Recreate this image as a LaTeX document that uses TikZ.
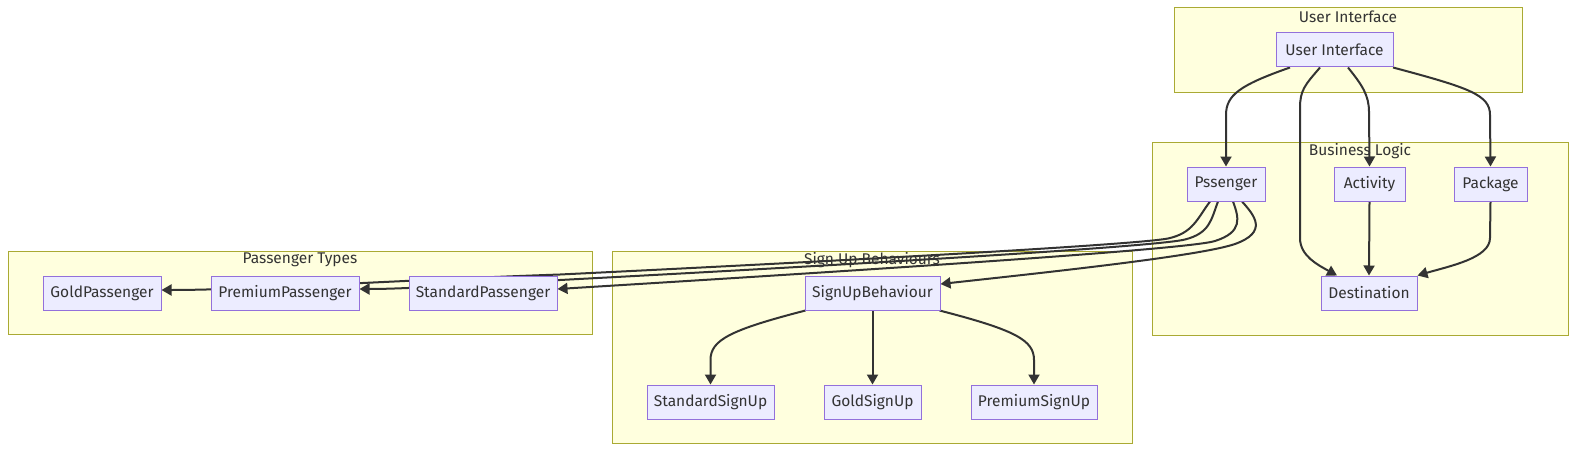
\documentclass[tikz,border=0pt]{standalone}
\usepackage{fontspec}
\setmainfont{Fira Sans}
\usetikzlibrary{arrows.meta,calc}
\definecolor{clfill}{HTML}{FFFFDE}
\definecolor{cldraw}{HTML}{AAAA33}
\definecolor{ndfill}{HTML}{ECECFF}
\definecolor{nddraw}{HTML}{9370DB}
\definecolor{edgecol}{HTML}{333333}
\pgfdeclarelayer{clusterlayer}
\pgfdeclarelayer{edgelayer}
\pgfsetlayers{clusterlayer,edgelayer,main}
\begin{document}
\begin{tikzpicture}[x=1pt,y=-1pt,
  box/.style={draw=nddraw, fill=ndfill, line width=1pt, minimum height=34pt, inner sep=0pt, text=edgecol, font=\fontsize{15.5}{18}\selectfont},
  cluster/.style={draw=cldraw, fill=clfill, line width=1pt},
  ctitle/.style={text=edgecol, inner sep=0pt, font=\fontsize{15.5}{18}\selectfont},
  conn/.style={draw=edgecol, line width=2pt, -{Triangle[length=10pt,width=11pt]}}]
\useasboundingbox (0,0) rectangle (1576,452);
% clusters
\begin{pgfonlayer}{clusterlayer}
\fill[white] (0,0) rectangle (1576,452);
\draw[cluster] (1174,8) rectangle (1522,92);
\node[ctitle] (tUI) at (1348,17) {User Interface};
\draw[cluster] (1152,142) rectangle (1568,335);
\node[ctitle] (tBL) at (1360,151) {Business Logic};
\draw[cluster] (8,251) rectangle (592,334);
\node[ctitle] (tPT) at (300,260) {Passenger Types};
\draw[cluster] (612,251) rectangle (1132,443);
\node[ctitle] (tSU) at (872,260) {Sign Up Behaviours};
\end{pgfonlayer}
% nodes
\node[box, minimum width=117pt] (ui) at (1334.5,50) {User Interface};
\node[box, minimum width=78pt] (pss) at (1226,184) {Pssenger};
\node[box, minimum width=71pt] (act) at (1369.5,184) {Activity};
\node[box, minimum width=73pt] (pkg) at (1490.5,184) {Package};
\node[box, minimum width=96pt] (dest) at (1369,293) {Destination};
\node[box, minimum width=118pt] (gold) at (102,293) {GoldPassenger};
\node[box, minimum width=148pt] (prem) at (285,293) {PremiumPassenger};
\node[box, minimum width=148pt] (std) at (483,293) {StandardPassenger};
\node[box, minimum width=135pt] (sub) at (872.5,293) {SignUpBehaviour};
\node[box, minimum width=127pt] (ssu) at (710.5,402) {StandardSignUp};
\node[box, minimum width=97pt] (gsu) at (872.5,402) {GoldSignUp};
\node[box, minimum width=126pt] (psu) at (1034,402) {PremiumSignUp};
% edges
\begin{pgfonlayer}{edgelayer}
\draw[conn] ($(ui.south)+(-44.5,0)$) .. controls (1240,85) and (1226,95) .. (1226,115) -- (pss.north);
\draw[conn] ($(ui.south)+(-14.5,0)$) .. controls (1305,85) and (1300,90) .. (1300,108) -- (1300,238) .. controls (1300,256) and (1318,265) .. ($(dest.north)+(-32,0)$);
\draw[conn] ($(ui.south)+(13.5,0)$) .. controls (1362,85) and (1369,95) .. (1369,112) -- (act.north);
\draw[conn] ($(ui.south)+(58.5,0)$) .. controls (1470,88) and (1490,95) .. (1490,115) -- (pkg.north);
\draw[conn] (act.south) -- (dest.north);
\draw[conn] (pkg.south) -- (1490,238) .. controls (1490,258) and (1450,266) .. (dest.north east);
\draw[conn] ($(pss.south)+(-16,0)$) .. controls (1197,219) and (1193,233) .. (1168,238.5) .. controls (1140,244) and (900,258) .. (560,274.5) .. controls (400,280) and (250,290) .. ($(gold.east)+(0,-3)$);
\draw[conn] ($(pss.south)+(-8,0)$) .. controls (1211,220) and (1210,233) .. (1185,239.5) .. controls (1160,246) and (900,262) .. (560,280) .. controls (450,286) and (400,289) .. ($(prem.east)+(0,-4)$);
\draw[conn] ($(pss.south)+(7,0)$) .. controls (1239,218) and (1243,232) .. (1215,241) .. controls (1190,249) and (900,268) .. ($(std.east)+(0,-4)$);
\draw[conn] ($(pss.south)+(16,0)$) .. controls (1255,216) and (1268,232) .. (1235,244) .. controls (1200,256) and (1050,272) .. ($(sub.east)+(0,-9)$);
\draw[conn] ($(sub.south west)+(1,0)$) .. controls (730,330) and (710.5,340) .. (710.5,360) -- (ssu.north);
\draw[conn] (sub.south) -- (gsu.north);
\draw[conn] ($(sub.south east)+(-1,0)$) .. controls (1015,330) and (1034,340) .. (1034,360) -- (psu.north);
\end{pgfonlayer}
\end{tikzpicture}
\end{document}
